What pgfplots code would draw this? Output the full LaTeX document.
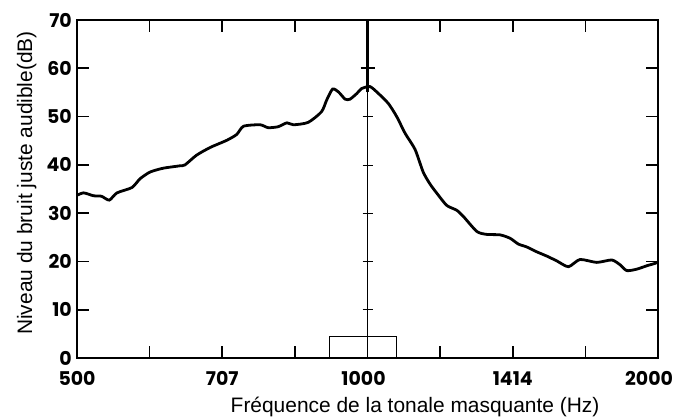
\documentclass[border=0pt]{standalone}
\usepackage{fontspec}
\setmainfont{Liberation Sans}
\newfontfamily\tickfont{Poppins}
\usepackage{pgfplots}
\pgfplotsset{compat=1.18}
\begin{document}
\begin{tikzpicture}
\path[use as bounding box] (-77bp,-61bp) rectangle (600bp,358bp);
\begin{axis}[
 at={(0,0)}, anchor=south west,
 scale only axis, width=581bp, height=338bp,
 xmode=log, log basis x=2,
 xmin=500, xmax=2000, ymin=0, ymax=70,
 xtick={594.6,707.1,840.9,1189.2,1414.2,1681.8},
 xticklabels={,707,,,1414,},
 extra x ticks={500,1000,2000},
 extra x tick labels={500,\hspace{-8bp}1000,\hspace{-18bp}2000},
 extra x tick style={major tick length=0pt},
 ytick={0,10,...,70},
 tick align=inside,
 major tick length=12bp,
 tick style={line width=1.6pt, black},
 axis line style={line width=2.2pt},
 ticklabel style={font=\tickfont\bfseries\fontsize{19}{19}\selectfont, inner sep=1bp},
 xticklabel style={yshift=-12bp},
 yticklabel style={xshift=-4bp},
 /pgf/number format/assume math mode=true,
 xlabel={Fréquence de la tonale masquante (Hz)},
 ylabel={Niveau du bruit juste audible(dB)},
 label style={font=\fontsize{21}{25}\selectfont},
 xlabel style={at={(axis description cs:0.5818,-0.1627)}, anchor=base},
 ylabel style={at={(axis description cs:-0.0775,0.5178)}, anchor=base},
 clip=false,
]
\addplot[line width=0.8pt, black] coordinates {(912,0) (912,4.5) (1072,4.5) (1072,0)};
\draw[line width=0.8pt] (axis cs:1000,0) -- (axis cs:1000,56);
\draw[line width=2.4pt] (axis cs:1000,55) -- (axis cs:1000,70);
\pgfplotsinvokeforeach{10,20,30,40,50}{
  \draw[line width=0.7pt] ([xshift=-5bp]axis cs:1000,#1) -- ([xshift=5bp]axis cs:1000,#1);
}
\draw[line width=1.8pt] ([xshift=-7bp]axis cs:1000,60) -- ([xshift=7bp]axis cs:1000,60);
\addplot[line width=2.8pt, black, smooth, tension=0.4] table {
x y
500 33.7
508 34.2
520 33.6
530 33.5
540 32.7
550 34.2
570 35.3
581 37.1
595 38.5
614 39.3
639 39.8
647 40.0
665 42.0
687 43.6
715 45.1
732 46.3
744 48.0
774 48.3
789 47.7
808 47.9
825 48.7
838 48.3
868 48.8
896 51.0
907 53.4
920 55.7
933 55.1
948 53.6
959 53.6
975 54.8
986 55.8
1006 56.2
1026 54.8
1051 52.7
1072 50.0
1094 46.5
1120 43.2
1142 38.5
1161 36.0
1180 34.1
1208 31.6
1237 30.6
1257 29.3
1298 26.2
1329 25.6
1372 25.5
1405 24.8
1433 23.6
1462 23.0
1497 22.0
1534 21.1
1571 20.1
1615 18.9
1660 20.4
1728 19.8
1791 20.3
1827 19.3
1856 18.1
1901 18.4
1947 19.1
1986 19.6
2000 19.9
};
\end{axis}
\end{tikzpicture}
\end{document}
